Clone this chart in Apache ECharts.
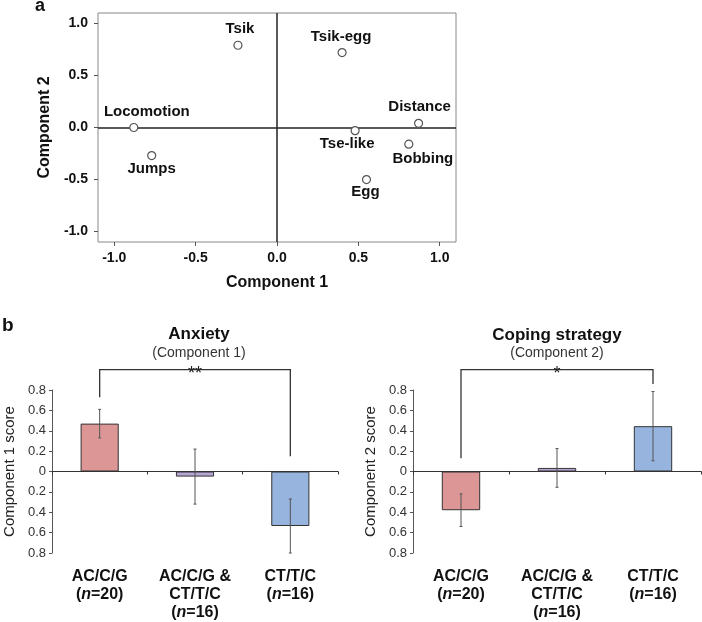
<!DOCTYPE html>
<html>
<head>
<meta charset="utf-8">
<script src="https://cdn.jsdelivr.net/npm/echarts@6/dist/echarts.min.js"></script>
<style>
html,body{margin:0;padding:0;background:#fff;}
#chart{width:702px;height:622px;}
</style>
</head>
<body>
<div id="chart"></div>
<script>
// ---- Panel a: PCA loadings ----
const pcaNames = ['Tsik', 'Tsik-egg', 'Locomotion', 'Jumps', 'Tse-like', 'Distance', 'Bobbing', 'Egg'];
const pcaComp1 = [-0.24, 0.40, -0.88, -0.77, 0.48, 0.87, 0.81, 0.55];
const pcaComp2 = [0.79, 0.72, 0.00, -0.27, -0.03, 0.04, -0.16, -0.50];
const pcaTicks = [-1.0, -0.5, 0.0, 0.5, 1.0];

// ---- Panel b: component scores by genotype ----
const groups = ['AC/C/G\n(n=20)', 'AC/C/G &\nCT/T/C\n(n=16)', 'CT/T/C\n(n=16)'];
const comp1Mean = [0.47, -0.05, -0.535];
const comp1Err = [0.14, 0.27, 0.265];
const comp2Mean = [-0.38, 0.035, 0.445];
const comp2Err = [0.16, 0.19, 0.34];
// significance brackets: [fromIndex, toIndex, leftEnd, rightEnd, top]
const bracket1 = [0, 2, 0.73, 0.15, 1.0];
const bracket1Label = '**';
const bracket2 = [0, 2, 0.13, 0.86, 1.0];
const bracket2Label = '*';

// ---- styling (not data) ----
const FONT = 'Liberation Sans, Arial, Helvetica, sans-serif';
const barColors = ['#dc9696', '#b7a6d5', '#97b4df'];
const labelOffsets = [[2, -16], [-1, -16], [13, -16], [0, 13], [-8, 13], [1, -16], [14, 15], [-1, 12]];

const chart = echarts.init(document.getElementById('chart'), null, {renderer: 'canvas'});

function catLabel(value) {
  return value.split('\n').map(function (line) {
    const m = line.match(/^\(n=(\d+)\)$/);
    if (m) return '{b|(}{i|n}{b|=' + m[1] + ')}';
    return '{b|' + line + '}';
  }).join('\n');
}

function errRender(params, api) {
  const x = api.value(0), lo = api.value(1), hi = api.value(2);
  const p1 = api.coord([x, hi]);
  const p2 = api.coord([x, lo]);
  const st = {stroke: '#555', lineWidth: 1};
  return {type: 'group', children: [
    {type: 'line', shape: {x1: p1[0], y1: p1[1], x2: p2[0], y2: p2[1]}, style: st},
    {type: 'line', shape: {x1: p1[0] - 1.5, y1: p1[1], x2: p1[0] + 1.5, y2: p1[1]}, style: st},
    {type: 'line', shape: {x1: p2[0] - 1.5, y1: p2[1], x2: p2[0] + 1.5, y2: p2[1]}, style: st}
  ]};
}

function makeBracketRender(label) {
  return function (params, api) {
    const a = api.value(0), b = api.value(1), l = api.value(2), r = api.value(3), t = api.value(4);
    const pl = api.coord([a, l]), plt = api.coord([a, t]);
    const pr = api.coord([b, r]), prt = api.coord([b, t]);
    return {type: 'group', children: [
      {type: 'polyline', shape: {points: [pl, plt, prt, pr]}, style: {stroke: '#333', lineWidth: 1.3, fill: null}},
      {type: 'text', x: (plt[0] + prt[0]) / 2, y: plt[1] + 4,
        style: {text: label, align: 'center', verticalAlign: 'middle', fontSize: 18, fontFamily: FONT, fill: '#222'}}
    ]};
  };
}

function scoreYAxis(gridIndex, name) {
  return {
    gridIndex: gridIndex, type: 'value', min: -0.8, max: 0.8, interval: 0.2,
    axisLine: {show: true, onZero: false, lineStyle: {color: '#555'}},
    axisTick: {show: true, length: 3, lineStyle: {color: '#555'}},
    splitLine: {show: false},
    axisLabel: {fontSize: 13, color: '#333', margin: 6, fontFamily: FONT,
      formatter: function (v) { return Math.abs(v) < 1e-9 ? '0' : Math.abs(v).toFixed(1); }},
    name: name, nameLocation: 'middle', nameGap: 35,
    nameTextStyle: {fontSize: 15, color: '#222', fontFamily: FONT}
  };
}

function zeroXAxis(gridIndex) {
  return {
    gridIndex: gridIndex, type: 'category', data: groups, position: 'bottom',
    axisLine: {show: true, onZero: true, lineStyle: {color: '#333'}},
    axisTick: {show: true, length: 3, lineStyle: {color: '#333'}},
    axisLabel: {show: false}, splitLine: {show: false}
  };
}
function labelXAxis(gridIndex) {
  return {
    gridIndex: gridIndex, type: 'category', data: groups, position: 'bottom',
    axisLine: {show: false, onZero: false}, axisTick: {show: false}, splitLine: {show: false},
    axisLabel: {interval: 0, hideOverlap: false, margin: 15, formatter: catLabel, lineHeight: 18,
      rich: {
        b: {fontSize: 16, fontWeight: 'bold', color: '#111', fontFamily: FONT, lineHeight: 18},
        i: {fontSize: 16, fontWeight: 'bold', fontStyle: 'italic', color: '#111', fontFamily: FONT, lineHeight: 18}
      }}
  };
}

const option = {
  animation: false,
  backgroundColor: '#fff',
  textStyle: {fontFamily: FONT},
  grid: [
    {left: 98, top: 13, width: 358, height: 229, show: true, borderColor: '#888', borderWidth: 1},
    {left: 52, top: 390, width: 286, height: 163},
    {left: 413, top: 390, width: 288, height: 164}
  ],
  xAxis: [
    {
      gridIndex: 0, type: 'value', min: -1.1, max: 1.1,
      axisLine: {show: false, onZero: false},
      axisTick: {show: true, length: 4, customValues: pcaTicks, lineStyle: {color: '#555'}},
      axisLabel: {customValues: pcaTicks, formatter: function (v) { return v.toFixed(1); },
        fontWeight: 'bold', fontSize: 14, color: '#111', margin: 9, fontFamily: FONT},
      splitLine: {show: false},
      name: 'Component 1', nameLocation: 'middle', nameGap: 33,
      nameTextStyle: {fontWeight: 'bold', fontSize: 16, color: '#111', fontFamily: FONT}
    },
    zeroXAxis(1), labelXAxis(1),
    zeroXAxis(2), labelXAxis(2)
  ],
  yAxis: [
    {
      gridIndex: 0, type: 'value', min: -1.1, max: 1.1,
      axisLine: {show: false, onZero: false},
      axisTick: {show: true, length: 4, customValues: pcaTicks, lineStyle: {color: '#555'}},
      axisLabel: {customValues: pcaTicks, formatter: function (v) { return v.toFixed(1); },
        fontWeight: 'bold', fontSize: 14, color: '#111', margin: 10, fontFamily: FONT},
      splitLine: {show: false},
      name: 'Component 2', nameLocation: 'middle', nameGap: 44,
      nameTextStyle: {fontWeight: 'bold', fontSize: 16, color: '#111', fontFamily: FONT}
    },
    scoreYAxis(1, 'Component 1 score'),
    scoreYAxis(2, 'Component 2 score')
  ],
  graphic: [
    {type: 'text', left: 35, top: -3, style: {text: 'a', fontSize: 18, fontWeight: 'bold', fill: '#111', fontFamily: FONT}},
    {type: 'text', x: 2, y: 326, style: {text: 'b', fontSize: 19, fontWeight: 'bold', fill: '#111', fontFamily: FONT, verticalAlign: 'middle'}},
    {type: 'text', x: 199, y: 334, style: {text: 'Anxiety', fontSize: 17, fontWeight: 'bold', fill: '#111', fontFamily: FONT, align: 'center', verticalAlign: 'middle'}},
    {type: 'text', x: 199, y: 353, style: {text: '(Component 1)', fontSize: 14, fill: '#333', fontFamily: FONT, align: 'center', verticalAlign: 'middle'}},
    {type: 'text', x: 557, y: 335, style: {text: 'Coping strategy', fontSize: 17, fontWeight: 'bold', fill: '#111', fontFamily: FONT, align: 'center', verticalAlign: 'middle'}},
    {type: 'text', x: 557, y: 353, style: {text: '(Component 2)', fontSize: 14, fill: '#333', fontFamily: FONT, align: 'center', verticalAlign: 'middle'}}
  ],
  series: [
    {
      type: 'scatter', xAxisIndex: 0, yAxisIndex: 0,
      symbol: 'circle', symbolSize: 8,
      itemStyle: {color: '#fff', borderColor: '#555', borderWidth: 1.2, opacity: 1},
      label: {show: true, position: 'inside', formatter: '{b}', fontWeight: 'bold', fontSize: 15, color: '#111', fontFamily: FONT},
      data: pcaNames.map(function (n, i) {
        return {name: n, value: [pcaComp1[i], pcaComp2[i]], label: {offset: labelOffsets[i]}};
      }),
      z: 5,
      markLine: {
        silent: true, symbol: 'none', animation: false,
        label: {show: false},
        lineStyle: {color: '#222', width: 1.5, type: 'solid', opacity: 1},
        data: [{xAxis: 0}, {yAxis: 0}]
      }
    },
    {
      type: 'bar', xAxisIndex: 1, yAxisIndex: 1, barWidth: '40%',
      itemStyle: {borderColor: '#333', borderWidth: 1},
      data: comp1Mean.map(function (v, i) { return {value: v, itemStyle: {color: barColors[i]}}; })
    },
    {
      type: 'custom', xAxisIndex: 1, yAxisIndex: 1, renderItem: errRender, z: 5,
      encode: {x: 0, y: [1, 2]},
      data: comp1Mean.map(function (v, i) { return [i, v - comp1Err[i], v + comp1Err[i]]; })
    },
    {
      type: 'custom', xAxisIndex: 1, yAxisIndex: 1, renderItem: makeBracketRender(bracket1Label), clip: false,
      encode: {x: [0, 1], y: [2, 3, 4]},
      data: [bracket1]
    },
    {
      type: 'bar', xAxisIndex: 3, yAxisIndex: 2, barWidth: '40%',
      itemStyle: {borderColor: '#333', borderWidth: 1},
      data: comp2Mean.map(function (v, i) { return {value: v, itemStyle: {color: barColors[i]}}; })
    },
    {
      type: 'custom', xAxisIndex: 3, yAxisIndex: 2, renderItem: errRender, z: 5,
      encode: {x: 0, y: [1, 2]},
      data: comp2Mean.map(function (v, i) { return [i, v - comp2Err[i], v + comp2Err[i]]; })
    },
    {
      type: 'custom', xAxisIndex: 3, yAxisIndex: 2, renderItem: makeBracketRender(bracket2Label), clip: false,
      encode: {x: [0, 1], y: [2, 3, 4]},
      data: [bracket2]
    }
  ]
};
chart.setOption(option);
</script>
</body>
</html>
